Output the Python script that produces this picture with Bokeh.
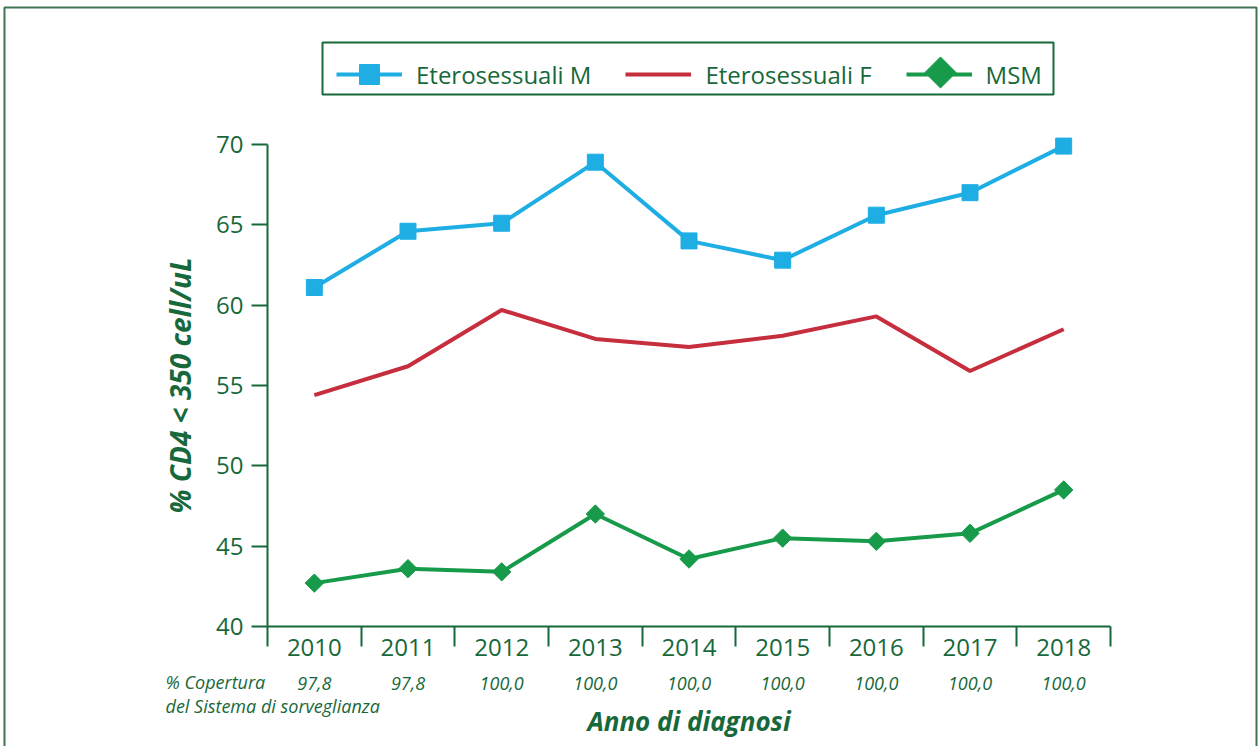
from bokeh.plotting import figure
from bokeh.models import (Range1d, LinearAxis, FixedTicker, Legend, LegendItem,
                          Label, BoxAnnotation)
from bokeh.embed import file_html
from bokeh.resources import INLINE
import math

# ---- data ----
years = ["2010", "2011", "2012", "2013", "2014", "2015", "2016", "2017", "2018"]
coverage = ["97,8", "97,8", "100,0", "100,0", "100,0", "100,0", "100,0", "100,0", "100,0"]
etero_m = [61.1, 64.6, 65.1, 68.9, 64.0, 62.8, 65.6, 67.0, 69.9]
etero_f = [54.4, 56.2, 59.7, 57.9, 57.4, 58.1, 59.3, 55.9, 58.5]
msm = [42.7, 43.6, 43.4, 47.0, 44.2, 45.5, 45.3, 45.8, 48.5]
y_ticks = [40, 45, 50, 55, 60, 65, 70]
series_names = ["Eterosessuali M", "Eterosessuali F", "MSM"]
coverage_title = ["% Copertura", "del Sistema di sorveglianza"]

# ---- style / layout ----
DG = "#17683a"
BORDER = "#3f7452"
BLUE = "#1eaee4"
RED = "#c62d3d"
GREEN = "#179b4b"
FONT = "Open Sans"

W, H = 1259, 746
# pixel placement of the axes box (left, right, top, bottom)
PX_L, PX_R, PX_T, PX_B = 267, 1110, 144, 626
Y0, Y1 = 40, 70
NX = len(years)
kx = (PX_R - PX_L) / NX
ky = (PX_B - PX_T) / (Y1 - Y0)

def px_to_x(px):
    return (px - PX_L) / kx

def px_to_y(py):
    return Y1 + (PX_T - py) / ky

xs = [i + 0.5 for i in range(NX)]
bounds = list(range(NX + 1))

p = figure(width=W, height=H, output_backend="svg", toolbar_location=None,
           title=None,
           x_range=Range1d(px_to_x(0), px_to_x(W)),
           y_range=Range1d(px_to_y(H), px_to_y(0)),
           x_axis_type=None, y_axis_type=None,
           min_border=0, min_border_left=0, min_border_right=0,
           min_border_top=0, min_border_bottom=0,
           outline_line_color=None, background_fill_color="white",
           border_fill_color="white")

yax = LinearAxis(ticker=FixedTicker(ticks=y_ticks), bounds=(Y0, Y1),
                 axis_line_color=DG, axis_line_width=2,
                 major_tick_line_color=DG, major_tick_line_width=2,
                 major_tick_out=16, major_tick_in=0,
                 minor_tick_line_color=None,
                 major_label_text_font=FONT, major_label_text_font_size="24px",
                 major_label_text_color=DG, major_label_standoff=8,
                 axis_label="% CD4 < 350 cell/uL", axis_label_text_font=FONT,
                 axis_label_text_font_style="bold italic",
                 axis_label_text_font_size="28px", axis_label_text_color=DG,
                 axis_label_standoff=14)
p.add_layout(yax, "left")
yax.fixed_location = 0

xax = LinearAxis(ticker=FixedTicker(ticks=xs, minor_ticks=bounds), bounds=(0, NX),
                 major_label_overrides={x: y for x, y in zip(xs, years)},
                 major_tick_line_color=None, major_tick_out=0, major_tick_in=0,
                 minor_tick_line_color=DG, minor_tick_line_width=2,
                 minor_tick_out=20, minor_tick_in=0,
                 axis_line_color=DG, axis_line_width=2,
                 major_label_text_font=FONT, major_label_text_font_size="24px",
                 major_label_text_color=DG, major_label_standoff=-8)
p.add_layout(xax, "below")
xax.fixed_location = Y0

cax = LinearAxis(ticker=FixedTicker(ticks=xs), bounds=(0, NX),
                 major_label_overrides={x: c for x, c in zip(xs, coverage)},
                 axis_line_color=None, major_tick_line_color=None,
                 minor_tick_line_color=None, major_tick_out=0, major_tick_in=0,
                 major_label_text_font=FONT, major_label_text_font_style="italic",
                 major_label_text_font_size="18px", major_label_text_color=DG,
                 major_label_standoff=50,
                 axis_label="Anno di diagnosi", axis_label_text_font=FONT,
                 axis_label_text_font_style="bold italic",
                 axis_label_text_font_size="26px", axis_label_text_color=DG,
                 axis_label_standoff=10)
p.add_layout(cax, "below")
cax.fixed_location = Y0

l1 = p.line(xs, etero_m, line_color=BLUE, line_width=4)
s1 = p.scatter(xs, etero_m, marker="square", size=16, color=BLUE)
l2 = p.line(xs, etero_f, line_color=RED, line_width=4)
l3 = p.line(xs, msm, line_color=GREEN, line_width=4)
s3 = p.scatter(xs, msm, marker="square", size=13, angle=math.pi / 4, color=GREEN)

# legend swatch diamond (Bokeh legends ignore marker rotation)
p.scatter([px_to_x(940)], [px_to_y(72)], marker="square", size=22,
          angle=math.pi / 4, color=GREEN)

legend = Legend(items=[LegendItem(label=series_names[0], renderers=[l1, s1]),
                       LegendItem(label=series_names[1], renderers=[l2]),
                       LegendItem(label=series_names[2], renderers=[l3])],
                orientation="horizontal", location=(336, H - 99),
                glyph_width=66, glyph_height=50, label_standoff=14, spacing=34,
                padding=2, margin=0, border_line_color=None,
                background_fill_alpha=0,
                label_text_font=FONT, label_text_font_size="24px",
                label_text_color=DG)
p.add_layout(legend, "center")

legend_box = BoxAnnotation(left=322, right=1053, bottom=H - 94, top=H - 42,
                           left_units="screen", right_units="screen",
                           bottom_units="screen", top_units="screen",
                           fill_alpha=0, line_color=DG, line_alpha=1,
                           line_width=2)
p.add_layout(legend_box)

page_box = BoxAnnotation(left=4, right=1256, bottom=-20, top=H - 7,
                         left_units="screen", right_units="screen",
                         bottom_units="screen", top_units="screen",
                         fill_alpha=0, line_color=BORDER, line_alpha=1,
                         line_width=2)
p.add_layout(page_box)

for txt, base in zip(coverage_title, [681, 705]):
    p.add_layout(Label(x=165, y=H - base, x_units="screen", y_units="screen",
                       text=txt, text_font=FONT, text_font_style="italic",
                       text_font_size="18px", text_color=DG,
                       text_baseline="alphabetic"))

open("out.html", "w").write(file_html(p, INLINE))
